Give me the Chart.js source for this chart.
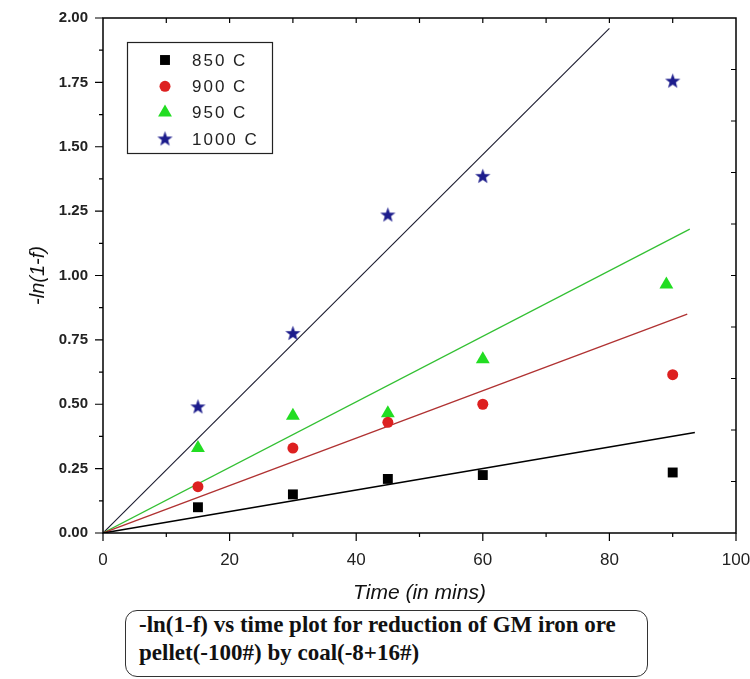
<!DOCTYPE html>
<html>
<head>
<meta charset="utf-8">
<script src="https://cdn.jsdelivr.net/npm/chart.js@4.4.0/dist/chart.umd.min.js"></script>
<style>
    body { margin: 0; background: #fff; }
    #wrap { position: relative; width: 750px; height: 679px; overflow: hidden; background: #fff; }
    #rateChart { display: block; }
    #caption {
        position: absolute; left: 125px; top: 610px; width: 523px; height: 67px;
        border: 1.5px solid #333; border-radius: 12px; box-sizing: border-box;
        padding: 0 0 0 13px; font-family: "Liberation Serif", serif; font-size: 23px;
        font-weight: bold; line-height: 28px; color: #111;
    }
</style>
</head>
<body>
<div id="wrap">
    <canvas id="rateChart" width="750" height="610"></canvas>
    <div id="caption">-ln(1-f) vs time plot for reduction of GM iron ore<br>pellet(-100#) by coal(-8+16#)</div>
</div>
<script>
// Data
const seriesNames = ['850 C', '900 C', '950 C', '1000 C'];
const times = [15, 30, 45, 60, 90];
const times950 = [15, 30, 45, 60, 89];
const y850 = [0.10, 0.15, 0.21, 0.225, 0.235];
const y900 = [0.18, 0.33, 0.43, 0.50, 0.615];
const y950 = [0.33, 0.455, 0.465, 0.675, 0.965];
const y1000 = [0.49, 0.775, 1.235, 1.385, 1.755];

// Fitted lines through the origin, end points
const fitEndX = [93.5, 92.3, 92.7, 80];
const fitEndY = [0.39, 0.85, 1.18, 1.96];

const xTickStep = 20;
const yTickStep = 0.25;

// Filled star marker
function makeStar(color) {
    const c = document.createElement('canvas');
    c.width = 17; c.height = 17;
    const g = c.getContext('2d');
    g.fillStyle = color;
    g.beginPath();
    for (let i = 0; i < 10; i++) {
        const r = i % 2 === 0 ? 8 : 3.3;
        const a = -Math.PI / 2 + i * Math.PI / 5;
        const px = 8.5 + r * Math.cos(a), py = 8.8 + r * Math.sin(a);
        if (i === 0) g.moveTo(px, py); else g.lineTo(px, py);
    }
    g.closePath();
    g.fill();
    return c;
}
const starImg = makeStar('#1c1c8c');

const markers = [
    { style: 'rect', color: '#000000', radius: 7 },
    { style: 'circle', color: '#dd2020', radius: 5.5 },
    { style: 'triangle', color: '#22dd22', radius: 8 },
    { style: starImg, color: '#1c1c8c', radius: 8 }
];
const lineColors = ['#000000', '#b03232', '#33c033', '#1a1a2e'];
const lineWidths = [1.6, 1.3, 1.2, 1.1];

function pts(xs, ys) { return xs.map((x, i) => ({ x: x, y: ys[i] })); }
const pointSets = [pts(times, y850), pts(times, y900), pts(times950, y950), pts(times, y1000)];

const datasets = [];
seriesNames.forEach((name, i) => {
    datasets.push({
        label: name + ' fit',
        data: [{ x: 0, y: 0 }, { x: fitEndX[i], y: fitEndY[i] }],
        showLine: true,
        borderColor: lineColors[i],
        borderWidth: lineWidths[i],
        pointRadius: 0,
        order: 2
    });
});
seriesNames.forEach((name, i) => {
    datasets.push({
        label: name,
        data: pointSets[i],
        pointStyle: markers[i].style,
        pointRadius: markers[i].radius,
        backgroundColor: markers[i].color,
        borderColor: markers[i].color,
        borderWidth: 0,
        order: 1
    });
});

// Box around the plot with ticks on all four sides
const framePlugin = {
    id: 'frame',
    afterDraw(chart) {
        const { ctx, chartArea: a, scales } = chart;
        const xs = scales.x, ys = scales.y;
        ctx.save();
        ctx.strokeStyle = '#000';
        ctx.lineWidth = 1.5;
        ctx.strokeRect(a.left, a.top, a.right - a.left, a.bottom - a.top);
        ctx.lineWidth = 1.2;
        ctx.beginPath();
        for (let v = 0; v <= 100; v += 10) {
            const px = xs.getPixelForValue(v);
            const len = v % 20 === 0 ? 8 : 4;
            ctx.moveTo(px, a.bottom); ctx.lineTo(px, a.bottom + len);
            if (v > 0 && v < 100) { ctx.moveTo(px, a.top); ctx.lineTo(px, a.top + 5); }
        }
        for (let k = 0; k <= 16; k++) {
            const py = ys.getPixelForValue(k * 0.125);
            const len = k % 2 === 0 ? 8 : 4;
            ctx.moveTo(a.left, py); ctx.lineTo(a.left - len, py);
        }
        for (let k = 1; k < 10; k++) {
            const py = ys.getPixelForValue(k * 0.2);
            ctx.moveTo(a.right, py); ctx.lineTo(a.right - 5, py);
        }
        ctx.stroke();
        ctx.restore();
    }
};

function drawMarker(ctx, m, x, y) {
    ctx.fillStyle = m.color;
    if (m.style === 'rect') {
        const s = m.radius * Math.SQRT1_2;
        ctx.fillRect(x - s, y - s, 2 * s, 2 * s);
    } else if (m.style === 'circle') {
        ctx.beginPath(); ctx.arc(x, y, m.radius, 0, Math.PI * 2); ctx.fill();
    } else if (m.style === 'triangle') {
        const r = m.radius;
        ctx.beginPath();
        ctx.moveTo(x, y - r);
        ctx.lineTo(x + r * Math.sin(Math.PI / 3), y + r / 2);
        ctx.lineTo(x - r * Math.sin(Math.PI / 3), y + r / 2);
        ctx.closePath(); ctx.fill();
    } else {
        ctx.drawImage(m.style, x - m.style.width / 2, y - m.style.height / 2);
    }
}

// Legend box inside the plot
const legendPlugin = {
    id: 'boxLegend',
    afterDraw(chart) {
        const ctx = chart.ctx;
        ctx.save();
        ctx.fillStyle = '#fff';
        ctx.fillRect(127, 42, 145, 111);
        ctx.strokeStyle = '#222';
        ctx.lineWidth = 1.2;
        ctx.strokeRect(127.5, 42.5, 145, 111);
        ctx.font = '17px "Liberation Sans", Arial, sans-serif';
        ctx.letterSpacing = '2px';
        ctx.textBaseline = 'middle';
        seriesNames.forEach((name, i) => {
            const y = 60 + i * 26.3;
            drawMarker(ctx, markers[i], 165, y);
            ctx.fillStyle = '#222';
            ctx.fillText(name, 192, y + 1);
        });
        ctx.restore();
    }
};

const ctx = document.getElementById('rateChart').getContext('2d');
new Chart(ctx, {
    type: 'scatter',
    data: { datasets: datasets },
    options: {
        responsive: false,
        devicePixelRatio: 1,
        animation: false,
        layout: { padding: { top: 18, right: 14, left: 0, bottom: 0 } },
        plugins: { legend: { display: false }, tooltip: { enabled: false } },
        scales: {
            x: {
                type: 'linear', min: 0, max: 100,
                grid: { display: false, drawTicks: false },
                border: { display: false },
                ticks: {
                    stepSize: xTickStep, padding: 17, color: '#222',
                    font: { family: '"Liberation Sans", Arial, sans-serif', size: 17 }
                },
                title: {
                    display: true, text: 'Time (in mins)', color: '#111',
                    font: { family: '"Liberation Sans", Arial, sans-serif', size: 21, style: 'italic' },
                    padding: { top: 0, bottom: 4 }
                },
                afterFit: s => { s.height = 77; s.paddingLeft = 0; s.paddingRight = 0; }
            },
            y: {
                type: 'linear', min: 0, max: 2,
                grid: { display: false, drawTicks: false },
                border: { display: false },
                ticks: {
                    stepSize: yTickStep, padding: 15, color: '#222',
                    font: { family: '"Liberation Sans", Arial, sans-serif', size: 15, weight: 'bold' },
                    callback: v => v.toFixed(2)
                },
                title: {
                    display: true, text: '-ln(1-f)', color: '#111',
                    font: { family: '"Liberation Sans", Arial, sans-serif', size: 20, style: 'italic' },
                    padding: { top: 26, bottom: 0 }
                },
                afterFit: s => { s.width = 103; s.paddingTop = 0; s.paddingBottom = 0; }
            }
        }
    },
    plugins: [framePlugin, legendPlugin]
});
</script>
</body>
</html>
